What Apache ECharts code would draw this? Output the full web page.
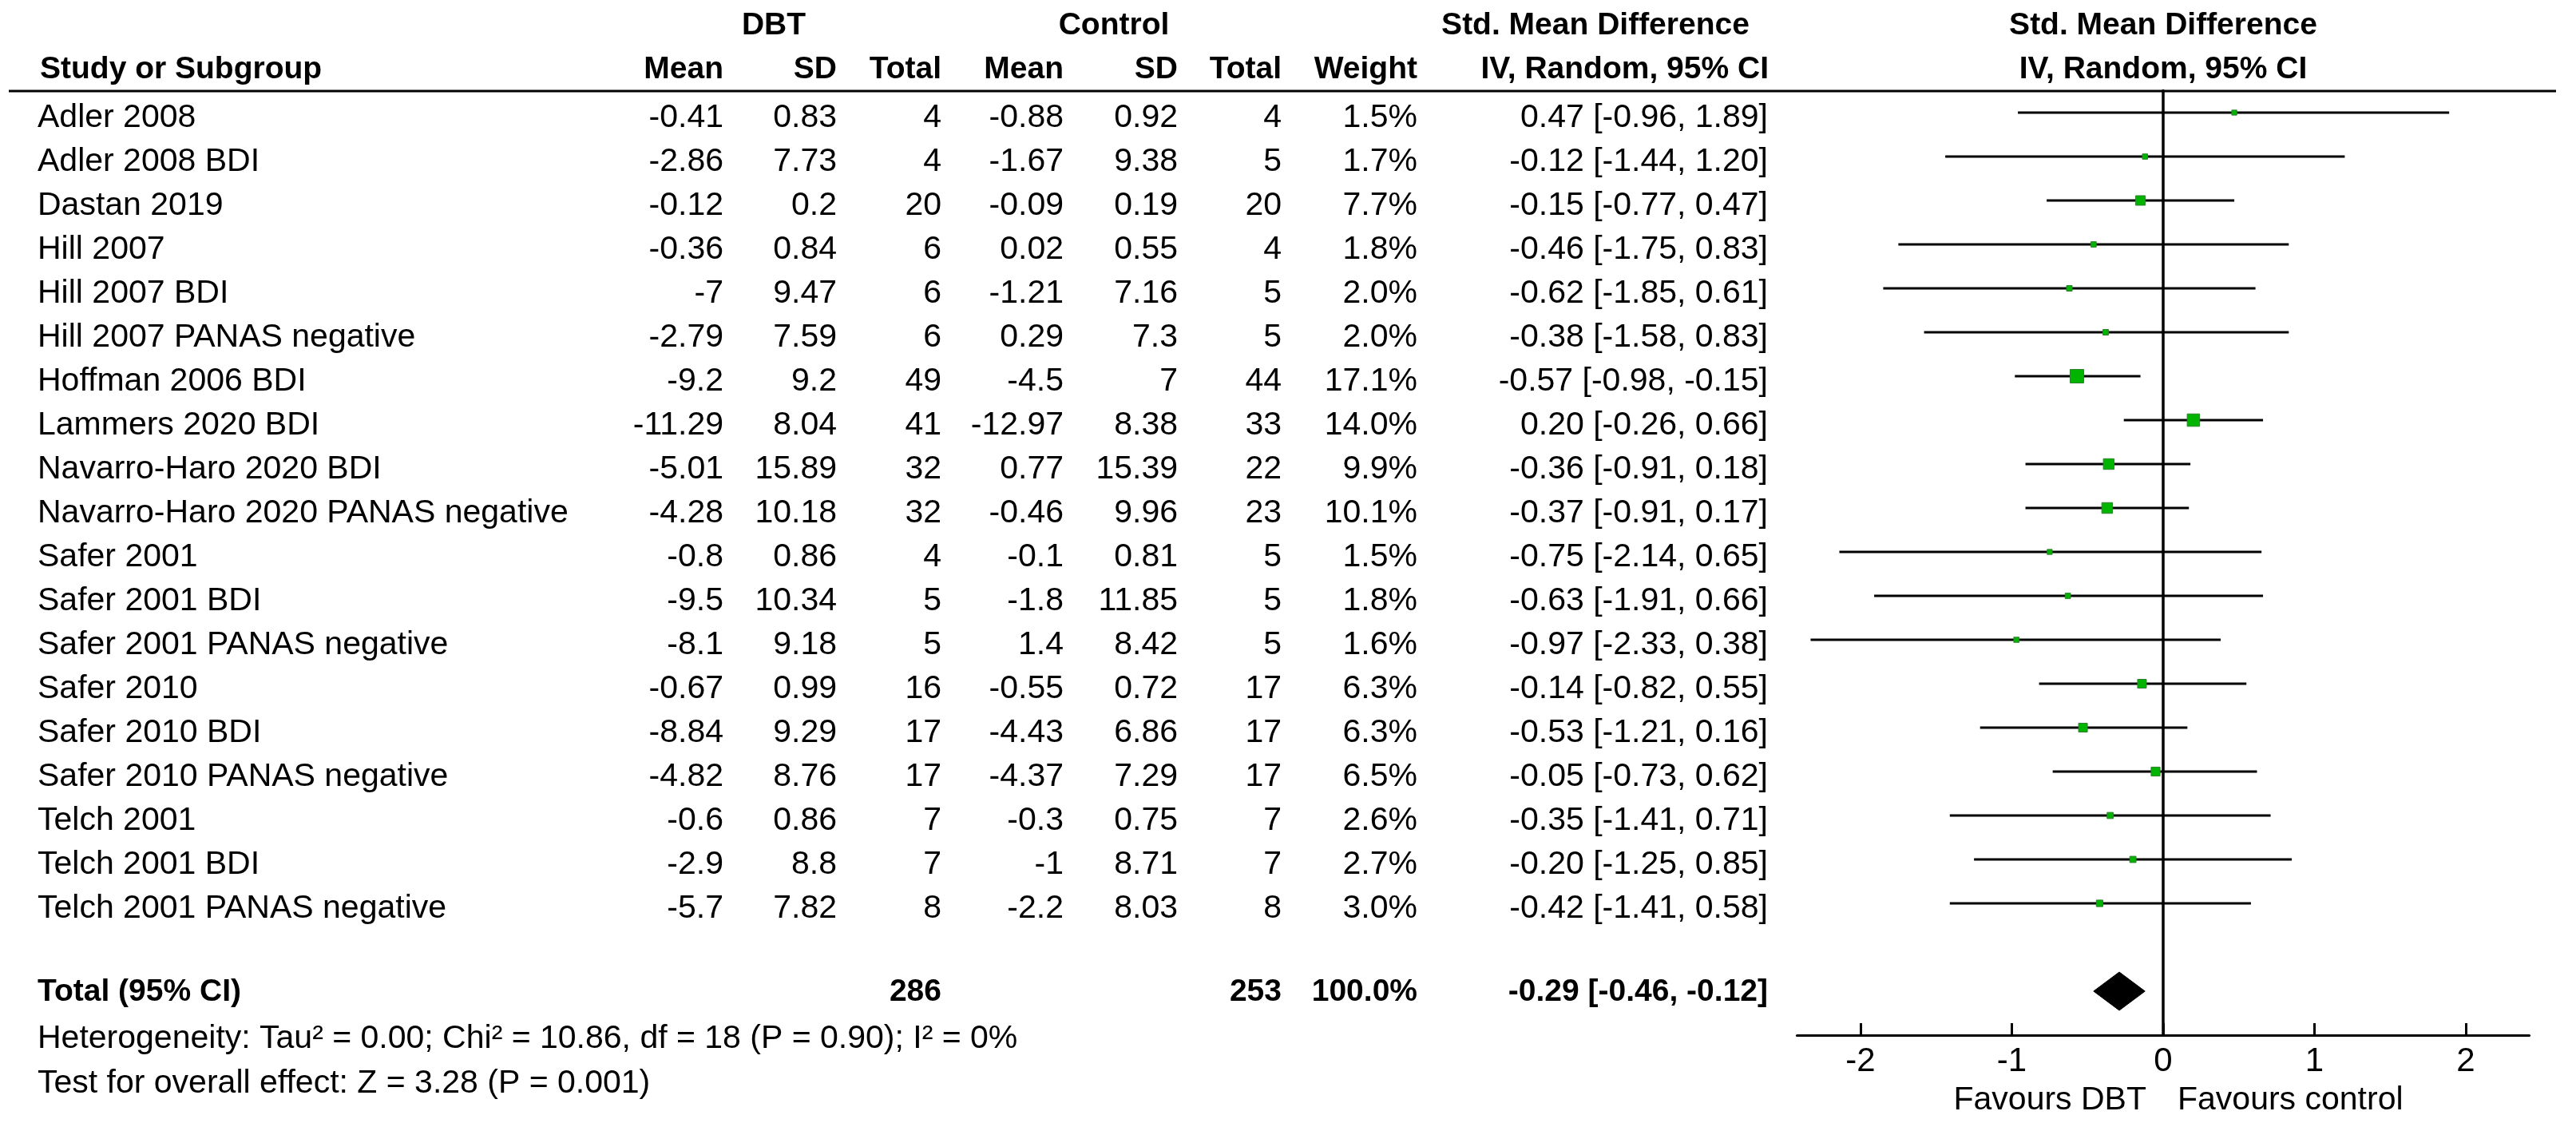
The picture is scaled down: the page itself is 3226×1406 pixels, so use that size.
<!DOCTYPE html>
<html>
<head>
<meta charset="utf-8">
<title>Forest plot: DBT vs control</title>
<script src="https://cdn.jsdelivr.net/npm/echarts@6.0.0/dist/echarts.min.js"></script>
<style>
  html, body { margin: 0; padding: 0; background: #fff; }
  #chart { width: 3226px; height: 1406px; }
</style>
</head>
<body>
<div id="chart"></div>
<script>
// data
const studies = [
  'Adler 2008', 'Adler 2008 BDI', 'Dastan 2019', 'Hill 2007', 'Hill 2007 BDI',
  'Hill 2007 PANAS negative', 'Hoffman 2006 BDI', 'Lammers 2020 BDI',
  'Navarro-Haro 2020 BDI', 'Navarro-Haro 2020 PANAS negative', 'Safer 2001',
  'Safer 2001 BDI', 'Safer 2001 PANAS negative', 'Safer 2010', 'Safer 2010 BDI',
  'Safer 2010 PANAS negative', 'Telch 2001', 'Telch 2001 BDI', 'Telch 2001 PANAS negative'
];
const dbtMean = [-0.41, -2.86, -0.12, -0.36, -7, -2.79, -9.2, -11.29, -5.01, -4.28, -0.8, -9.5, -8.1, -0.67, -8.84, -4.82, -0.6, -2.9, -5.7];
const dbtSD = [0.83, 7.73, 0.2, 0.84, 9.47, 7.59, 9.2, 8.04, 15.89, 10.18, 0.86, 10.34, 9.18, 0.99, 9.29, 8.76, 0.86, 8.8, 7.82];
const dbtN = [4, 4, 20, 6, 6, 6, 49, 41, 32, 32, 4, 5, 5, 16, 17, 17, 7, 7, 8];
const ctrlMean = [-0.88, -1.67, -0.09, 0.02, -1.21, 0.29, -4.5, -12.97, 0.77, -0.46, -0.1, -1.8, 1.4, -0.55, -4.43, -4.37, -0.3, -1, -2.2];
const ctrlSD = [0.92, 9.38, 0.19, 0.55, 7.16, 7.3, 7, 8.38, 15.39, 9.96, 0.81, 11.85, 8.42, 0.72, 6.86, 7.29, 0.75, 8.71, 8.03];
const ctrlN = [4, 5, 20, 4, 5, 5, 44, 33, 22, 23, 5, 5, 5, 17, 17, 17, 7, 7, 8];
const weight = [1.5, 1.7, 7.7, 1.8, 2.0, 2.0, 17.1, 14.0, 9.9, 10.1, 1.5, 1.8, 1.6, 6.3, 6.3, 6.5, 2.6, 2.7, 3.0];
const smd = [0.47, -0.12, -0.15, -0.46, -0.62, -0.38, -0.57, 0.20, -0.36, -0.37, -0.75, -0.63, -0.97, -0.14, -0.53, -0.05, -0.35, -0.20, -0.42];
const ciLow = [-0.96, -1.44, -0.77, -1.75, -1.85, -1.58, -0.98, -0.26, -0.91, -0.91, -2.14, -1.91, -2.33, -0.82, -1.21, -0.73, -1.41, -1.25, -1.41];
const ciHigh = [1.89, 1.20, 0.47, 0.83, 0.61, 0.83, -0.15, 0.66, 0.18, 0.17, 0.65, 0.66, 0.38, 0.55, 0.16, 0.62, 0.71, 0.85, 0.58];

const totalLabel = 'Total (95% CI)';
const totalDbtN = 286;
const totalCtrlN = 253;
const totalWeight = 100.0;
const pooled = [-0.46, -0.29, -0.12]; // low, estimate, high

const xTicks = [-2, -1, 0, 1, 2];
const heterogeneityText = 'Heterogeneity: Tau² = 0.00; Chi² = 10.86, df = 18 (P = 0.90); I² = 0%';
const overallText = 'Test for overall effect: Z = 3.28 (P = 0.001)';
const favoursLeft = 'Favours DBT';
const favoursRight = 'Favours control';

// layout
const FONT = "'Liberation Sans', Arial, sans-serif";
const REG = '41px ' + FONT;
const BOLD = 'bold 39px ' + FONT;
const TOTAL_ROW = 20;
const COL = {
  name: 47, dbtMean: 906, dbtSD: 1048, dbtN: 1179,
  ctrlMean: 1332, ctrlSD: 1475, ctrlN: 1605, weight: 1775, ci: 2214
};
const ZERO_X = 2709;
const UNIT = 189.5;
const X_EXT = 2.42;

const fmt2 = (v) => v.toFixed(2);
const ciText = (e, lo, hi) => fmt2(e) + ' [' + fmt2(lo) + ', ' + fmt2(hi) + ']';

function txt(x, y, text, align, font) {
  return {
    type: 'text',
    style: { x: x, y: y, text: text, align: align, verticalAlign: 'middle', font: font || REG, fill: '#000' }
  };
}

const chart = echarts.init(document.getElementById('chart'), null, { renderer: 'canvas' });

const studyRows = studies.map((s, i) => i);

const option = {
  backgroundColor: '#fff',
  animation: false,
  grid: {
    left: ZERO_X - X_EXT * UNIT,
    width: 2 * X_EXT * UNIT,
    top: 113.5,
    height: 55 * 21.5,
    outerBoundsMode: 'none'
  },
  xAxis: {
    type: 'value',
    min: -X_EXT,
    max: X_EXT,
    position: 'bottom',
    axisLine: { show: true, onZero: false, lineStyle: { color: '#000', width: 3 } },
    axisTick: { show: true, inside: true, length: 15, customValues: xTicks, lineStyle: { color: '#000', width: 3 } },
    axisLabel: { customValues: xTicks, margin: 12, color: '#000', fontSize: 42, fontFamily: FONT },
    splitLine: { show: false }
  },
  yAxis: {
    type: 'value',
    inverse: true,
    min: -0.5,
    max: 21,
    axisLine: { show: true, onZero: true, lineStyle: { color: '#000', width: 3.5 } },
    axisTick: { show: false },
    axisLabel: { show: false },
    splitLine: { show: false }
  },
  graphic: [
    // header rule
    { type: 'line', shape: { x1: 11, y1: 114, x2: 3201, y2: 114 }, style: { stroke: '#000', lineWidth: 3 } },
    txt(969, 32, 'DBT', 'center', BOLD),
    txt(1395, 32, 'Control', 'center', BOLD),
    txt(1998, 32, 'Std. Mean Difference', 'center', BOLD),
    txt(ZERO_X, 32, 'Std. Mean Difference', 'center', BOLD),
    txt(50, 87, 'Study or Subgroup', 'left', BOLD),
    txt(COL.dbtMean, 87, 'Mean', 'right', BOLD),
    txt(COL.dbtSD, 87, 'SD', 'right', BOLD),
    txt(COL.dbtN, 87, 'Total', 'right', BOLD),
    txt(COL.ctrlMean, 87, 'Mean', 'right', BOLD),
    txt(COL.ctrlSD, 87, 'SD', 'right', BOLD),
    txt(COL.ctrlN, 87, 'Total', 'right', BOLD),
    txt(COL.weight, 87, 'Weight', 'right', BOLD),
    txt(COL.ci + 1, 87, 'IV, Random, 95% CI', 'right', BOLD),
    txt(ZERO_X, 87, 'IV, Random, 95% CI', 'center', BOLD),
    // footnotes
    txt(COL.name, 1301, heterogeneityText, 'left'),
    txt(COL.name, 1357, overallText, 'left'),
    txt(ZERO_X - 21, 1378, favoursLeft, 'right'),
    txt(ZERO_X + 18, 1378, favoursRight, 'left')
  ],
  series: [
    {
      // table cells, tied to the row scale
      type: 'custom',
      name: 'table',
      silent: true,
      data: studyRows.map((r) => [0, r]).concat([[0, TOTAL_ROW]]),
      renderItem: function (params, api) {
        const i = params.dataIndex;
        const row = api.value(1);
        if (i >= studies.length) {
          const y = api.coord([0, row])[1] + 1;
          return {
            type: 'group',
            children: [
              txt(COL.name, y, totalLabel, 'left', BOLD),
              txt(COL.dbtN, y, String(totalDbtN), 'right', BOLD),
              txt(COL.ctrlN, y, String(totalCtrlN), 'right', BOLD),
              txt(COL.weight, y, totalWeight.toFixed(1) + '%', 'right', BOLD),
              txt(COL.ci, y, ciText(pooled[1], pooled[0], pooled[2]), 'right', BOLD)
            ]
          };
        }
        const y = api.coord([0, row])[1] + 7;
        return {
          type: 'group',
          children: [
            txt(COL.name, y, studies[i], 'left'),
            txt(COL.dbtMean, y, String(dbtMean[i]), 'right'),
            txt(COL.dbtSD, y, String(dbtSD[i]), 'right'),
            txt(COL.dbtN, y, String(dbtN[i]), 'right'),
            txt(COL.ctrlMean, y, String(ctrlMean[i]), 'right'),
            txt(COL.ctrlSD, y, String(ctrlSD[i]), 'right'),
            txt(COL.ctrlN, y, String(ctrlN[i]), 'right'),
            txt(COL.weight, y, weight[i].toFixed(1) + '%', 'right'),
            txt(COL.ci, y, ciText(smd[i], ciLow[i], ciHigh[i]), 'right')
          ]
        };
      }
    },
    {
      // confidence interval whiskers
      type: 'custom',
      name: 'ci',
      silent: true,
      data: studyRows.map((r) => [ciLow[r], ciHigh[r], r]),
      renderItem: function (params, api) {
        const a = api.coord([api.value(0), api.value(2)]);
        const b = api.coord([api.value(1), api.value(2)]);
        return {
          type: 'line',
          shape: { x1: a[0], y1: a[1], x2: b[0], y2: b[1] },
          style: { stroke: '#000', lineWidth: 3 }
        };
      },
      z: 2
    },
    {
      // study estimates, square grows with weight
      type: 'scatter',
      name: 'studies',
      silent: true,
      symbol: 'rect',
      data: studyRows.map((r) => [smd[r], r, weight[r]]),
      symbolSize: (v) => 1.8 + 3.675 * Math.sqrt(v[2]),
      itemStyle: { color: '#00b400', borderColor: '#2f7f2f', borderWidth: 1, opacity: 1 },
      z: 3
    },
    {
      // pooled diamond
      type: 'custom',
      name: 'pooled',
      silent: true,
      data: [[pooled[0], pooled[1], pooled[2], TOTAL_ROW]],
      renderItem: function (params, api) {
        const row = api.value(3);
        const l = api.coord([api.value(0), row]);
        const c = api.coord([api.value(1), row]);
        const r = api.coord([api.value(2), row]);
        const h = 24;
        return {
          type: 'polygon',
          shape: { points: [[l[0], l[1]], [c[0], c[1] - h], [r[0], r[1]], [c[0], c[1] + h]] },
          style: { fill: '#000', stroke: '#000', lineWidth: 1 }
        };
      },
      z: 3
    }
  ]
};

chart.setOption(option);
</script>
</body>
</html>
